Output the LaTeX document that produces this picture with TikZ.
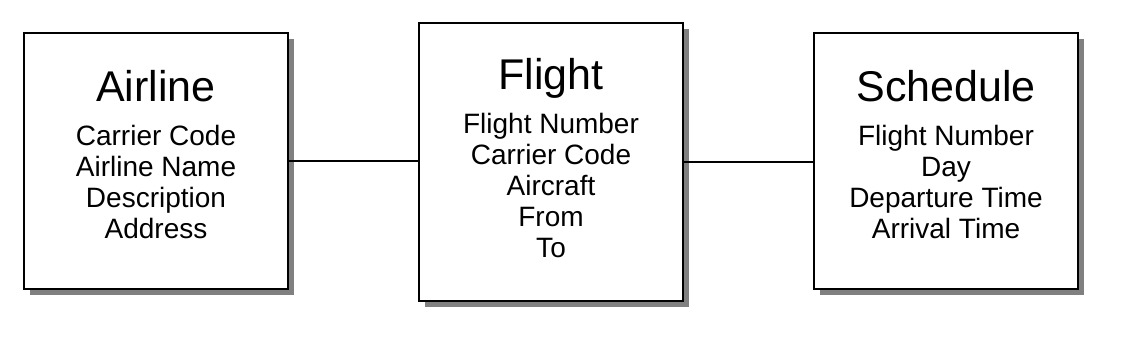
\documentclass[tikz,border=0pt]{standalone}
\usepackage{fontspec}
\setmainfont{Liberation Sans}
\usepackage{tikz}
\usetikzlibrary{shadows}
\usetikzlibrary{positioning}
\tikzset{
  entity_box/.style = {rectangle, draw=black, line width=1.8pt, fill=white,
    minimum width=264pt, inner sep=0pt,
    drop shadow={shadow xshift=6pt, shadow yshift=-6pt, fill=black!50, opacity=1}},% boite d'entite
  entity_title/.style = {inner sep=0pt, font=\fontsize{43}{50}\selectfont},% nom de l'entite
  entity_attr/.style = {inner sep=0pt, align=center,
    font=\fontsize{28}{31}\selectfont},% attributs
  link/.style = {draw=black, line width=1.8pt}% association
}
\begin{document}
\begin{tikzpicture}[x=1pt, y=-1pt]
  \useasboundingbox (0,0) rectangle (1131,339);
  % entites
  \node [entity_box, minimum height=256pt] (airline) at (156,161) {};
  \node [entity_box, minimum height=278pt] (flight) at (551,162) {};
  \node [entity_box, minimum height=256pt] (schedule) at (946,161) {};
  % titres
  \node [entity_title, anchor=base] (airline_title) at ([yshift=-69pt]airline.north) {Airline};
  \node [entity_title, anchor=base] (flight_title) at ([yshift=-67pt]flight.north) {Flight};
  \node [entity_title, anchor=base] (schedule_title) at ([yshift=-69pt]schedule.north) {Schedule};
  % attributs
  \node [entity_attr, below=24pt of airline_title.base] (airline_attrs)
    {Carrier Code\\Airline Name\\Description\\Address};
  \node [entity_attr, below=24pt of flight_title.base] (flight_attrs)
    {Flight Number\\Carrier Code\\Aircraft\\From\\To};
  \node [entity_attr, below=24pt of schedule_title.base] (schedule_attrs)
    {Flight Number\\Day\\Departure Time\\Arrival Time};
  % liens
  \draw [link] (airline.east) -- (airline.east -| flight.west);
  \draw [link] (flight.east) -- (flight.east -| schedule.west);
\end{tikzpicture}
\end{document}
